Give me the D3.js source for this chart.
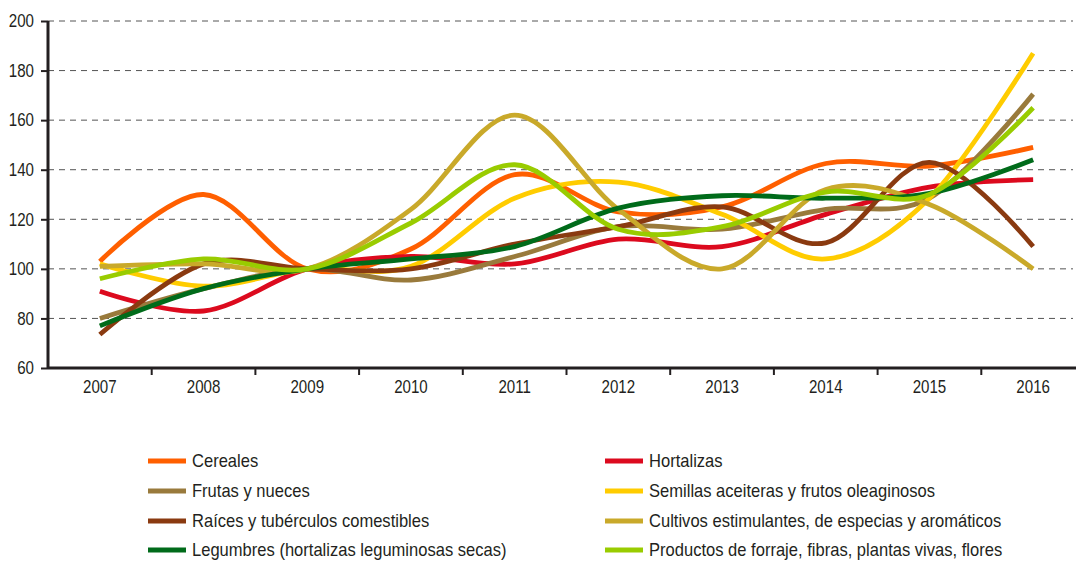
<!DOCTYPE html>
<html><head><meta charset="utf-8">
<script src="https://cdn.jsdelivr.net/npm/d3@7"></script>
<style>
html,body{margin:0;padding:0;background:#fff;}
text{font-family:"Liberation Sans",Arial,sans-serif;fill:#231f20;}
</style></head>
<body><svg id="c" width="1076" height="562"></svg>
<script>
const years = ["2007","2008","2009","2010","2011","2012","2013","2014","2015","2016"];
const yTicks = [60,80,100,120,140,160,180,200];
const seriesNames = ["Cereales","Hortalizas","Frutas y nueces","Semillas aceiteras y frutos oleaginosos","Raíces y tubérculos comestibles","Cultivos estimulantes, de especias y aromáticos","Legumbres (hortalizas leguminosas secas)","Productos de forraje, fibras, plantas vivas, flores"];
const seriesColors = ["#ff5f00","#dc0a1e","#997a3c","#ffcc00","#8a3a10","#c9a92a","#006b1a","#99cc00"];
const cereales   = [103,130,100,108,138,123,125,142.5,141.5,149];
const hortalizas = [91,83,100,105,102,112,109,122,133,136];
const frutas     = [80,92,100,95.5,105,117,116,124,128.5,170.5];
const semillas   = [102,93,100,101,128.5,135,122,104,128.5,187];
const raices     = [73.5,102,100,100,110,117,125,110.5,143,109];
const cultivos   = [101,102,100,124,162,124,100,132,126,100];
const legumbres  = [77,92,100,104,109,124.5,129.5,128.5,130.5,144];
const productos  = [96,104,100,118.5,142,116,117,131,130,165];
const seriesValues = [cereales,hortalizas,frutas,semillas,raices,cultivos,legumbres,productos];

(function(){
const svg = d3.select("#c");
const mL = 48, mR = 1085, mT = 21, mB = 368;
const x = d3.scaleBand().domain(years).range([mL,mR]).padding(0);
const y = d3.scaleLinear().domain([60,200]).range([mB,mT]);

// gridlines
svg.append("g").selectAll("line").data(yTicks.filter(d=>d>60)).join("line")
  .attr("x1",mL).attr("x2",1073).attr("y1",d=>y(d)).attr("y2",d=>y(d))
  .attr("stroke","#555").attr("stroke-width",1).attr("stroke-dasharray","6,5");

// lines
const line = d3.line().x((d,i)=>x(years[i])+x.bandwidth()/2).y(d=>y(d)).curve(d3.curveCardinal.tension(0));
svg.append("g").selectAll("path").data(seriesValues).join("path")
  .attr("d",d=>line(d)).attr("fill","none")
  .attr("stroke",(d,i)=>seriesColors[i]).attr("stroke-width",4.8)
  .attr("stroke-linejoin","round");

// y axis
const yAxis = svg.append("g").attr("transform",`translate(${mL},0)`)
  .call(d3.axisLeft(y).tickValues(yTicks).tickSize(7).tickPadding(0));
yAxis.select(".domain").attr("stroke","#231f20").attr("stroke-width",3).attr("d",`M0,${mT}V${mB}`);
yAxis.selectAll(".tick line").attr("stroke","#231f20").attr("stroke-width",2);
yAxis.selectAll(".tick text").attr("x",0).attr("font-size",18).attr("fill","#231f20")
  .style("font-family",'"Liberation Sans",Arial,sans-serif')
  .attr("transform","translate(-14,0) scale(0.84,1)");

// x axis
const xAxis = svg.append("g").attr("transform",`translate(0,${mB})`)
  .call(d3.axisBottom(x).tickSize(0).tickPadding(10));
xAxis.select(".domain").attr("stroke","#231f20").attr("stroke-width",3).attr("d",`M${mL},0H${mR}`);
xAxis.selectAll(".tick text").attr("font-size",18).attr("dy","0.85em").attr("fill","#231f20")
  .style("font-family",'"Liberation Sans",Arial,sans-serif')
  .attr("transform","scale(0.84,1)");
xAxis.append("g").selectAll("line").data(years.slice(1)).join("line")
  .attr("x1",d=>x(d)).attr("x2",d=>x(d)).attr("y1",0).attr("y2",7)
  .attr("stroke","#231f20").attr("stroke-width",2);

// legend
const legCols = [148,605], legRows = [461,491,521,550];
const leg = svg.append("g").selectAll("g").data(seriesNames).join("g")
  .attr("transform",(d,i)=>`translate(${legCols[i%2]},${legRows[Math.floor(i/2)]})`);
leg.append("line").attr("x1",0).attr("x2",38).attr("y1",0).attr("y2",0)
  .attr("stroke",(d,i)=>seriesColors[i]).attr("stroke-width",5);
leg.append("text").attr("x",0).attr("y",0).attr("dy","0.35em").attr("font-size",18)
  .attr("transform","translate(44,0) scale(0.92,1)").text(d=>d);
})();
</script></body></html>
